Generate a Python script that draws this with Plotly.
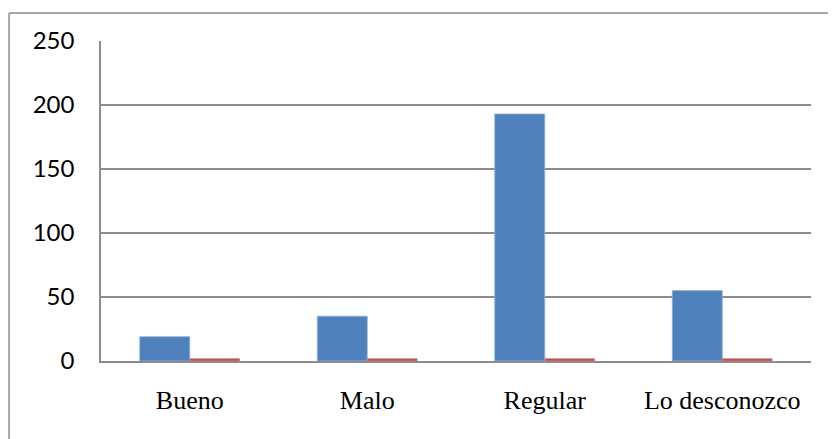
import plotly.graph_objects as go

categories = ["Bueno", "Malo", "Regular", "Lo desconozco"]
frecuencia = [19, 35, 193, 55]
porcentaje = [2, 2, 2, 2]
y_ticks = [0, 50, 100, 150, 200, 250]

W, H = 836, 439
OFF = 8  # page body margin offset
L, T = 101 - OFF, 41 - OFF
R = W - (811.5 - OFF)
B = H - (361 - OFF)
pw, ph = W - L - R, H - T - B

fig = go.Figure()
fig.add_trace(go.Bar(x=categories, y=frecuencia, name="Frecuencia",
                     marker=dict(color="#4F81BD", line=dict(color="#8FB0DB", width=0.8))))
fig.add_trace(go.Bar(x=categories, y=porcentaje, name="Porcentaje",
                     marker=dict(color="#C0504D", line=dict(color="#D99694", width=0.5))))

# outer chart frame: only top and left edges visible (cropped)
fx0 = (9 - OFF - L) / pw
fy1 = 1 + (T - (13 - OFF)) / ph
frame = dict(color="#A6A6A6", width=2)
fig.add_shape(type="line", xref="paper", yref="paper", x0=fx0, x1=(W - L) / pw,
              y0=fy1, y1=fy1, line=frame, layer="below")
fig.add_shape(type="line", xref="paper", yref="paper", x0=fx0, x1=fx0,
              y0=fy1, y1=-B / ph, line=frame, layer="below")

fig.update_layout(
    width=W, height=H,
    margin=dict(l=L, r=R, t=T, b=B),
    paper_bgcolor="white", plot_bgcolor="white",
    barmode="group", bargap=0.437, bargroupgap=0,
    showlegend=False,
    xaxis=dict(showline=True, linecolor="#8C8C8C", linewidth=1.5, showgrid=False,
               tickfont=dict(family="Liberation Serif", size=26, color="#000000"),
               ticks="", ticklabelstandoff=15),
    yaxis=dict(range=[0, 250], tickvals=y_ticks, showline=True, linecolor="#8C8C8C",
               linewidth=1.5, gridcolor="#8C8C8C", gridwidth=1.5, zeroline=False,
               tickfont=dict(family="Lato", size=24, color="#000000"),
               ticks="", ticklabelstandoff=20),
)

fig.write_html("out.html")
